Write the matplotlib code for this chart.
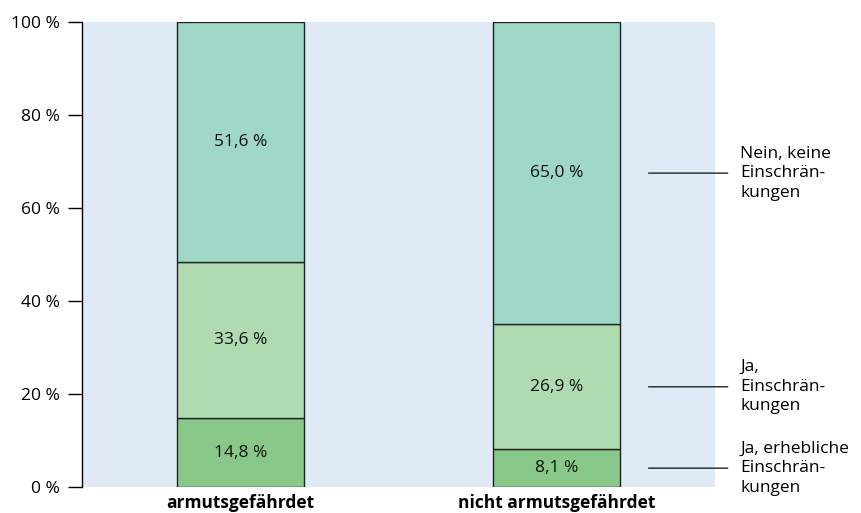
import matplotlib
matplotlib.use("Agg")
import matplotlib.pyplot as plt
import numpy as np

categories = ["armutsgefährdet", "nicht armutsgefährdet"]
series_names = ["Ja, erhebliche\nEinschrän-\nkungen", "Ja,\nEinschrän-\nkungen", "Nein, keine\nEinschrän-\nkungen"]
erheblich = [14.8, 8.1]
ja = [33.6, 26.9]
nein = [51.6, 65.0]
colours = ["#88c888", "#b0dbb0", "#a0d8c8"]

plt.rcParams["font.family"] = ["Open Sans", "DejaVu Sans"]
FS = 12.5

fig = plt.figure(figsize=(8.62, 5.13), dpi=100)
ax = fig.add_axes([82 / 862, 1 - 487 / 513, (715 - 82) / 862, (487 - 22) / 513])
ax.set_facecolor("#dfeaf6")

x = np.arange(len(categories))
bottom = np.zeros(len(categories))
for vals, col in zip([erheblich, ja, nein], colours):
    ax.bar(x, vals, 0.4, bottom=bottom, color=col, edgecolor="#222222", linewidth=1)
    for xi, b, v in zip(x, bottom, vals):
        ax.text(xi, b + v / 2, f"{v:.1f} %".replace(".", ","), ha="center", va="center",
                fontsize=FS, color="#111111")
    bottom = bottom + np.array(vals)

ax.set_xlim(-0.5, 1.5)
ax.set_ylim(0, 100)
ax.set_yticks(range(0, 101, 20))
ax.set_yticklabels([f"{v} %" for v in range(0, 101, 20)], fontsize=FS)
ax.tick_params(axis="y", length=10, width=1, pad=6)
ax.set_xticks(x)
ax.set_xticklabels(categories, fontsize=FS, fontweight="bold")
ax.tick_params(axis="x", length=0, pad=5)
for s in ["top", "right", "bottom"]:
    ax.spines[s].set_visible(False)
ax.spines["left"].set_linewidth(1)

# legend labels with leader lines at segment centres of the second bar
mids = np.cumsum([0] + [erheblich[1], ja[1]]) + np.array([erheblich[1], ja[1], nein[1]]) / 2
for name, m in zip(series_names, mids):
    ax.annotate("", xy=(1.29, m), xytext=(1.54, m), xycoords="data",
                arrowprops=dict(arrowstyle="-", color="#222222", lw=1,
                                shrinkA=0, shrinkB=0), annotation_clip=False)
    ax.text(1.58, m, name, ha="left", va="center", fontsize=FS, linespacing=1.3,
            clip_on=False)

fig.savefig("out.png", dpi=100)
